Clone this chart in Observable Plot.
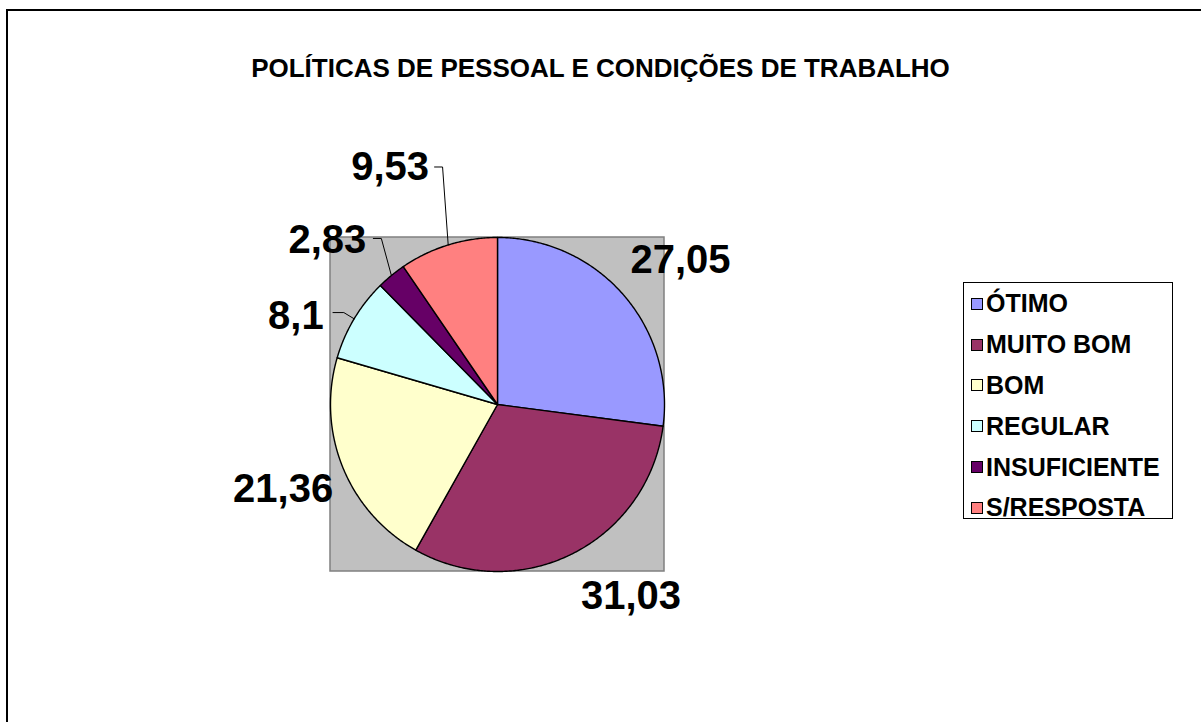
<!DOCTYPE html>
<html><head><meta charset="utf-8">
<script src="https://cdn.jsdelivr.net/npm/d3@7"></script>
<script src="https://cdn.jsdelivr.net/npm/@observablehq/plot@0.6"></script>
<style>
html,body{margin:0;padding:0;background:#fff;overflow:hidden}
#wrap{position:relative;width:1201px;height:722px;font-family:"Liberation Sans",Arial,sans-serif;overflow:hidden}
#chart{position:absolute;left:0;top:0}
#frame{position:absolute;left:6px;top:9px;width:1300px;height:800px;border-left:2px solid #000;border-top:2px solid #000;pointer-events:none}
#title{position:absolute;left:0;width:1201px;top:53px;line-height:30px;text-align:center;font-weight:bold;font-size:26px;color:#000}
#legend{position:absolute;left:963px;top:282px;width:210px;height:237px;border:1px solid #000;box-sizing:border-box;background:#fff;padding-top:0.5px}
.row{display:flex;align-items:center;height:40.8px;font-weight:bold;font-size:25px;color:#000;white-space:nowrap}
.sw{width:12px;height:12px;border:1px solid #000;box-sizing:border-box;margin-left:7px;margin-right:3px;flex:none}
</style>
</head><body>
<div id="wrap"><div id="chart"></div><div id="frame"></div><div id="title"></div><div id="legend"></div></div>
<script>
// ---- data ----
const title = "POLÍTICAS DE PESSOAL E CONDIÇÕES DE TRABALHO";
const categories = ["ÓTIMO", "MUITO BOM", "BOM", "REGULAR", "INSUFICIENTE", "S/RESPOSTA"];
const values = [27.05, 31.03, 21.36, 8.1, 2.83, 9.53];
const valueLabels = ["27,05", "31,03", "21,36", "8,1", "2,83", "9,53"];
const colors = ["#9999FF", "#993366", "#FFFFCC", "#CCFFFF", "#660066", "#FF8080"];

// ---- layout (not data) ----
const W = 1201, H = 722, CX = 497, CY = 404, R = 167;
const labelAngleShift = [3.1, -8.3, 0.6, -7.3, -6.6, -7.2];
const labelRadius = [1.394, 1.397, 1.381, 1.317, 1.415, 1.558];
const leaders = [null, null, null, {s: 0.222, e: 0.287, dv: 0.024}, {s: 0.275, e: 0.323, dv: 0.012}, {s: 0.266, e: 0.314, dv: 0.003}];

const total = d3.sum(values);
let acc = 0;
const slices = values.map((v, i) => {
  const a0 = acc / total * 2 * Math.PI; acc += v;
  const a1 = acc / total * 2 * Math.PI;
  return {i, a0, a1, mid: (a0 + a1) / 2};
});
const wedgePts = slices.flatMap(s => {
  const n = Math.max(2, Math.ceil((s.a1 - s.a0) / (Math.PI / 360)));
  const pts = [{k: s.i, u: 0, v: 0}];
  for (let j = 0; j <= n; j++) {
    const a = s.a0 + (s.a1 - s.a0) * j / n;
    pts.push({k: s.i, u: Math.sin(a), v: Math.cos(a)});
  }
  pts.push({k: s.i, u: 0, v: 0});
  return pts.map(p => ({...p, cat: categories[s.i]}));
});
const labels = slices.map(s => {
  const a = s.mid + labelAngleShift[s.i] * Math.PI / 180;
  return {u: Math.sin(a) * labelRadius[s.i], v: Math.cos(a) * labelRadius[s.i], t: valueLabels[s.i]};
});
const leaderPts = slices.flatMap(s => {
  const L = leaders[s.i]; if (!L) return [];
  const lb = labels[s.i];
  return [
    {k: s.i, u: lb.u + L.s, v: lb.v + L.dv},
    {k: s.i, u: lb.u + L.e, v: lb.v + L.dv},
    {k: s.i, u: Math.sin(s.mid), v: Math.cos(s.mid)}
  ];
});

const chart = Plot.plot({
  width: W, height: H, margin: 0,
  x: {domain: [-CX / R, (W - CX) / R], axis: null},
  y: {domain: [-(H - CY) / R, CY / R], axis: null},
  color: {domain: categories, range: colors},
  style: {background: "#fff", fontFamily: "'Liberation Sans', Arial, sans-serif"},
  marks: [
    Plot.rect([0], {x1: -1, x2: 1, y1: -1, y2: 1, fill: "#C0C0C0", stroke: "#808080", strokeWidth: 1.5}),
    Plot.line(wedgePts, {x: "u", y: "v", z: "k", fill: "cat", stroke: "#000", strokeWidth: 1.4, strokeLinejoin: "round"}),
    Plot.line(leaderPts, {x: "u", y: "v", z: "k", stroke: "#000", strokeWidth: 1}),
    Plot.text(labels, {x: "u", y: "v", text: "t", fontSize: 40, fontWeight: "bold", fill: "#000"})
  ]
});
document.getElementById("chart").appendChild(chart);
document.getElementById("title").textContent = title;
const lg = document.getElementById("legend");
categories.forEach((c, i) => {
  const row = document.createElement("div"); row.className = "row";
  const sw = document.createElement("span"); sw.className = "sw"; sw.style.background = colors[i];
  const tx = document.createElement("span"); tx.textContent = c;
  row.appendChild(sw); row.appendChild(tx); lg.appendChild(row);
});
</script>
</body></html>
